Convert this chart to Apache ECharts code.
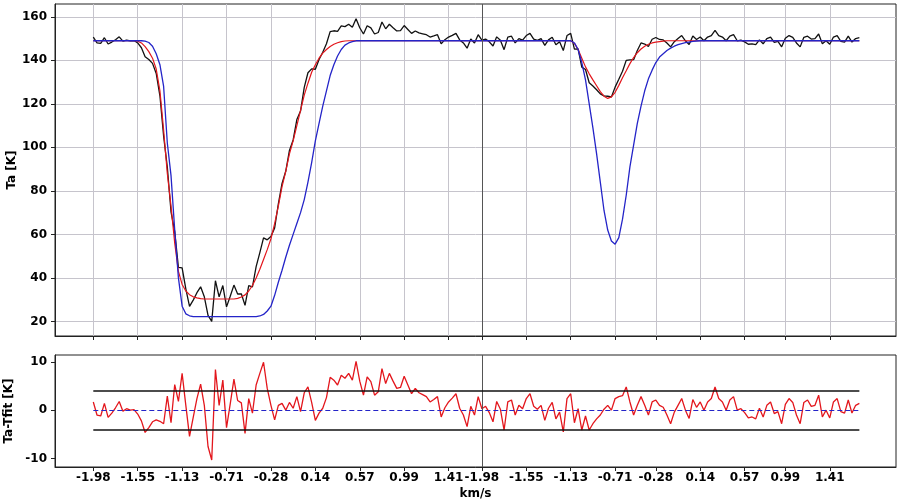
<!DOCTYPE html>
<html><head><meta charset="utf-8">
<script src="https://cdn.jsdelivr.net/npm/echarts@6/dist/echarts.min.js"></script>
<style>html,body{margin:0;padding:0;background:#fff}#c{width:900px;height:503px}</style>
</head><body><div id="c"></div>
<script>
// Tick labels (km/s) and the channel index where each one sits (two spectra side by side)
const tickLabels = ['-1.98','-1.55','-1.13','-0.71','-0.28','0.14','0.57','0.99','1.41',
                    '-1.98','-1.55','-1.13','-0.71','-0.28','0.14','0.57','0.99','1.41'];
const tickChannels = [0,12,24,36,48,60,72,84,96,105,117,129,141,152,164,176,187,199];
const yTicksTop = [20,40,60,80,100,120,140,160];
const yTicksBottom = [-10,0,10];
const sigmaLevel = 4;

// Observed Ta (black)
const observed1 = [150.7,148.0,147.8,150.4,147.5,148.4,149.5,150.8,148.8,149.3,
 149.0,149.1,148.0,145.8,141.7,140.4,138.6,134.0,123.7,105.2,
 90.9,70.4,61.3,44.8,44.6,35.0,26.9,29.8,33.2,35.9,
 31.3,22.8,20.0,38.7,31.3,36.5,26.7,31.6,36.7,32.6,
 32.7,27.4,36.4,35.9,45.2,51.6,58.4,57.5,59.0,63.0,
 74.0,83.4,89.0,98.6,103.4,112.8,116.7,127.6,134.3,136.1,
 135.9,140.4,143.7,147.6,153.2,153.6,153.3,155.8,155.5,156.6,
 155.2,159.1,155.0,152.1,155.9,154.9,152.1,152.8,157.6,154.5,
 156.6,155.0,153.5,153.7,156.0,154.2,152.4,153.5,152.6,152.2,
 151.8,150.7,151.2,151.8,147.6,149.5,150.7,151.5,152.4,149.4,
 148.0,145.6,149.8,148.0,151.8];
const observed2 = [149.3,149.8,148.5,146.6,150.8,149.2,144.9,150.7,151.1,148.0,
 150.0,149.3,151.4,152.4,149.8,149.2,150.0,146.9,149.4,150.6,
 147.2,148.6,144.5,151.4,152.4,145.2,145.3,136.9,135.8,129.7,
 128.2,126.5,124.6,123.7,123.5,123.2,127.7,131.3,135.0,140.0,
 140.2,140.3,144.5,148.0,147.5,146.4,149.7,150.5,149.6,149.4,
 148.0,146.2,148.6,150.0,151.4,149.0,147.3,151.2,149.6,150.7,
 149.0,150.7,151.4,153.8,151.4,150.7,149.0,151.1,151.8,149.0,
 149.3,148.5,147.4,147.6,147.2,149.4,147.6,150.0,150.7,148.3,
 148.7,146.2,150.2,151.4,150.6,148.0,146.2,150.6,151.1,149.8,
 150.0,152.1,147.6,149.0,147.4,150.7,151.4,148.7,148.4,151.1,
 148.4,150.0,150.4];

// Fit (red)
const fit1 = [149,149,149,149,149,149,149,149,149,149,149,149,
 148.8,148,146.3,144,141,136,126,108,88,73,56,43,37,34,32.3,31.3,30.8,30.5,
 30.3,30.3,30.3,30.3,30.3,30.3,30.3,30.3,30.3,
 30.6,31.2,32.2,34,36.5,40,44,48.5,53,58,65,73,82,89,97,103,110,117,124,129.5,
 134.5,138,141,143.3,145,146.4,147.4,148.1,148.6,148.9,
 149,149,149,149,149,149,149,149,149,149,149,149,149,149,149,149,149,149,
 149,149,149,149,149,149,149,149,149,149,149,149,149,149,149,149,149,149];
const fit2 = [149,149,149,149,149,149,149,149,149,149,149,149,149,149,149,149,149,149,149,149,149,149,149,149,149,
 147.8,145,141,137,133.8,131,128.3,125.6,123.5,122.5,123.2,125.3,128.5,132,135.2,
 138.5,141.3,143.5,145.2,146.5,147.4,148,148.4,148.6,148.8,
 149,149,149,149,149,149,149,149,149,149,149,149,149,149,149,149,149,149,149,149,
 149,149,149,149,149,149,149,149,149,149,149,149,149,149,149,149,149,149,149,149,
 149,149,149,149,149,149,149,149,149,149,149,149,149];

// Model (blue)
const model1 = [149,149,149,149,149,149,149,149,149,149,149,149,149,149,
 148.8,148.2,146.5,143,138,128,102,87,62,40,27,23.5,22.6,
 22.2,22.2,22.2,22.2,22.2,22.2,22.2,22.2,22.2,22.2,22.2,22.2,22.2,22.2,22.2,22.2,22.2,22.2,
 22.5,23.2,24.8,27,32,38,43.5,49.5,55,60,65,70,76,84,93,103,111,119,126,133,138,142,145,147,148,148.6,
 149,149,149,149,149,149,149,149,149,149,149,149,149,149,149,149,149,
 149,149,149,149,149,149,149,149,149,149,149,149,149,149,149,149,149];
const model2 = [149,149,149,149,149,149,149,149,149,149,149,149,149,149,149,149,149,149,149,149,149,149,149,149,149,
 148,145,139,131,120,109,97,84,71,62,57,55.5,58.5,67,78,91,101,111,119,126,131.5,135.5,139,141.5,143,
 144.5,145.6,146.5,147.2,147.7,148.1,148.4,148.7,148.9,
 149,149,149,149,149,149,149,149,149,149,149,149,149,149,149,149,149,149,149,149,149,149,
 149,149,149,149,149,149,149,149,149,149,149,149,149,149,149,149,149,149,149,149,149,149];

// Residual Ta - Tfit (red, lower panel)
const residual1 = [1.7,-1.0,-1.2,1.4,-1.5,-0.6,0.5,1.8,-0.2,0.3,
 0.0,0.1,-0.8,-2.2,-4.6,-3.6,-2.4,-2.0,-2.3,-2.8,
 2.9,-2.6,5.3,1.8,7.6,1.0,-5.4,-1.5,2.4,5.4,
 1.0,-7.5,-10.3,8.4,1.0,6.2,-3.6,1.3,6.4,2.0,
 1.5,-4.8,2.4,-0.6,5.2,7.6,9.9,4.5,1.0,-2.0,
 1.0,1.4,0.0,1.6,0.4,2.8,-0.3,3.6,4.8,1.6,
 -2.1,-0.6,0.4,2.6,6.8,6.2,5.2,7.2,6.6,7.6,
 6.2,10.1,6.0,3.1,6.9,5.9,3.1,3.8,8.6,5.5,
 7.6,6.0,4.5,4.7,7.0,5.2,3.4,4.5,3.6,3.2,
 2.8,1.7,2.2,2.8,-1.4,0.5,1.7,2.5,3.4,0.4,
 -1.0,-3.4,0.8,-1.0,2.8];
const residual2 = [0.3,0.8,-0.5,-2.4,1.8,0.2,-4.1,1.7,2.1,-1.0,
 1.0,0.3,2.4,3.4,0.8,0.2,1.0,-2.1,0.4,1.6,
 -1.8,-0.4,-4.5,2.4,3.4,-2.6,0.3,-4.1,-1.2,-4.1,
 -2.8,-1.8,-1.0,0.2,1.0,0.0,2.4,2.8,3.0,4.8,
 1.7,-1.0,1.0,2.8,1.0,-1.0,1.7,2.1,1.0,0.6,
 -1.0,-2.8,-0.4,1.0,2.4,0.0,-1.7,2.2,0.6,1.7,
 0.0,1.7,2.4,4.8,2.4,1.7,0.0,2.1,2.8,0.0,
 0.3,-0.5,-1.6,-1.4,-1.8,0.4,-1.4,1.0,1.7,-0.7,
 -0.3,-2.8,1.2,2.4,1.6,-1.0,-2.8,1.6,2.1,0.8,
 1.0,3.1,-1.4,0.0,-1.6,1.7,2.4,-0.3,-0.6,2.1,
 -0.6,1.0,1.4];

const observed = observed1.concat(observed2);
const fit = fit1.concat(fit2);
const model = model1.concat(model2);
const residual = residual1.concat(residual2);
const splitChannel = observed1.length;
const lastChannel = observed.length - 1;

const toPairs = arr => arr.map((v, i) => [i, v]);
const font = {fontFamily: 'DejaVu Sans', fontWeight: 'bold', fontSize: 12, color: '#000'};
const axisColor = '#222';
const xMin = -10.35, xMax = 216.9;

const chart = echarts.init(document.getElementById('c'), null, {renderer: 'canvas'});
const baseX = {
  type: 'value', min: xMin, max: xMax,
  axisLine: {show: true, onZero: false, lineStyle: {color: axisColor, width: 1}},
  axisTick: {show: true, length: 4, customValues: tickChannels, lineStyle: {color: axisColor}}
};
chart.setOption({
  animation: false,
  backgroundColor: '#fff',
  grid: [
    {left: 55, right: 4, top: 4, height: 332, show: true, borderColor: axisColor, borderWidth: 1,
     backgroundColor: '#fff', containLabel: false, outerBoundsMode: 'none'},
    {left: 55, right: 4, top: 355, height: 112, show: true, borderColor: axisColor, borderWidth: 1,
     backgroundColor: '#fff', containLabel: false, outerBoundsMode: 'none'}
  ],
  xAxis: [
    Object.assign({}, baseX, {
      gridIndex: 0,
      axisLabel: {show: false, customValues: tickChannels},
      splitLine: {show: true, lineStyle: {color: '#c6c4cc', width: 1}}
    }),
    Object.assign({}, baseX, {
      gridIndex: 1,
      axisLabel: Object.assign({show: true, margin: 5, customValues: tickChannels,
        formatter: v => tickLabels[tickChannels.indexOf(v)]}, font),
      splitLine: {show: false},
      name: 'km/s', nameLocation: 'middle', nameGap: 21, nameMoveOverlap: false, nameTextStyle: font
    })
  ],
  yAxis: [
    {
      type: 'value', gridIndex: 0, min: 13.3, max: 165.9,
      axisLine: {show: true, onZero: false, lineStyle: {color: axisColor}},
      axisTick: {show: true, length: 4, customValues: yTicksTop, lineStyle: {color: axisColor}},
      axisLabel: Object.assign({margin: 8, customValues: yTicksTop}, font),
      splitLine: {show: true, lineStyle: {color: '#c6c4cc', width: 1}},
      name: 'Ta [K]', nameLocation: 'middle', nameGap: 37, nameMoveOverlap: false, nameTextStyle: font
    },
    {
      type: 'value', gridIndex: 1, min: -11.74, max: 11.4,
      axisLine: {show: true, onZero: false, lineStyle: {color: axisColor}},
      axisTick: {show: true, length: 4, customValues: yTicksBottom, lineStyle: {color: axisColor}},
      axisLabel: Object.assign({margin: 8, customValues: yTicksBottom}, font),
      splitLine: {show: false},
      name: 'Ta-Tfit [K]', nameLocation: 'middle', nameGap: 40, nameMoveOverlap: false, nameTextStyle: font
    }
  ],
  series: [
    {type: 'line', xAxisIndex: 0, yAxisIndex: 0, data: toPairs(observed), showSymbol: false,
     lineStyle: {color: '#111', width: 1.3}, z: 2,
     markLine: {silent: true, symbol: 'none', label: {show: false},
       lineStyle: {color: '#555', width: 1, type: 'solid'}, data: [{xAxis: splitChannel}]}},
    {type: 'line', xAxisIndex: 0, yAxisIndex: 0, data: toPairs(fit), showSymbol: false,
     lineStyle: {color: '#e3161c', width: 1.2}, z: 3},
    {type: 'line', xAxisIndex: 0, yAxisIndex: 0, data: toPairs(model), showSymbol: false,
     lineStyle: {color: '#2424c8', width: 1.3}, z: 4},
    {type: 'line', xAxisIndex: 1, yAxisIndex: 1, data: toPairs(residual), showSymbol: false,
     lineStyle: {color: '#e3161c', width: 1.3}, z: 2,
     markLine: {silent: true, symbol: 'none', label: {show: false}, z: 5,
       data: [
         {xAxis: splitChannel, lineStyle: {color: '#555', width: 1, type: 'solid'}},
         [{coord: [0, sigmaLevel], lineStyle: {color: '#111', width: 1.5, type: 'solid'}}, {coord: [lastChannel, sigmaLevel]}],
         [{coord: [0, -sigmaLevel], lineStyle: {color: '#111', width: 1.5, type: 'solid'}}, {coord: [lastChannel, -sigmaLevel]}],
         [{coord: [0, 0], lineStyle: {color: '#2424c8', width: 1.2, type: [5, 3]}}, {coord: [lastChannel, 0]}]
       ]}}
  ]
});
</script>
</body></html>
